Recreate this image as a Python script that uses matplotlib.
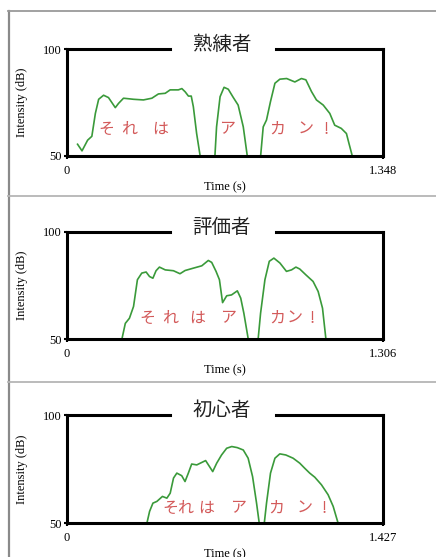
import matplotlib
matplotlib.use('Agg')
import matplotlib.pyplot as plt
from matplotlib.lines import Line2D

plt.rcParams['font.family'] = ['Noto Sans CJK JP', 'DejaVu Sans']

###############
# SPEAKER DATA #
###############

# 熟練者 (expert) : time (s) / intensity (dB), one list per voiced stretch
expert_t1 = [0.045, 0.064, 0.088, 0.106, 0.121, 0.135, 0.156, 0.177, 0.206, 0.220, 0.241, 0.284,
             0.326, 0.362, 0.390, 0.419, 0.440, 0.475, 0.490, 0.504, 0.518, 0.530, 0.539, 0.553, 0.568]
expert_db1 = [55.5, 52.4, 57.4, 59.2, 69.9, 76.5, 78.4, 77.3, 72.6, 74.6, 77.0, 76.5,
              76.2, 77.0, 79.0, 79.3, 80.9, 80.9, 81.5, 80.0, 78.0, 78.0, 73.0, 60.5, 50.0]
expert_t2 = [0.631, 0.638, 0.653, 0.670, 0.688, 0.709, 0.730, 0.752, 0.769]
expert_db2 = [50.0, 63.6, 77.7, 82.1, 81.2, 77.4, 73.8, 63.6, 50.0]
expert_t3 = [0.826, 0.837, 0.851, 0.868, 0.887, 0.908, 0.937, 0.972, 1.000, 1.019, 1.043, 1.064,
             1.093, 1.121, 1.142, 1.170, 1.192, 1.203, 1.217]
expert_db3 = [50.0, 63.6, 66.8, 75.4, 84.0, 85.9, 86.2, 84.6, 86.2, 85.6, 80.1, 76.2,
              73.8, 69.9, 64.4, 62.9, 60.5, 55.8, 50.0]

# 評価者 (rater)
rater_t1 = [0.227, 0.241, 0.258, 0.275, 0.291, 0.309, 0.327, 0.341, 0.355, 0.368, 0.382, 0.406,
            0.440, 0.467, 0.488, 0.522, 0.557, 0.584, 0.598, 0.616, 0.630, 0.643, 0.660, 0.680,
            0.704, 0.718, 0.731, 0.749]
rater_db1 = [50.0, 57.3, 59.7, 65.2, 77.7, 80.8, 81.3, 79.2, 78.4, 81.9, 83.6, 82.3,
             81.9, 80.5, 82.0, 83.1, 84.2, 86.7, 85.8, 81.6, 77.7, 67.0, 70.2, 70.6,
             72.5, 69.1, 62.0, 50.0]
rater_t2 = [0.790, 0.800, 0.818, 0.836, 0.855, 0.880, 0.907, 0.928, 0.946, 0.962, 0.987, 1.017,
            1.038, 1.056, 1.070]
rater_db2 = [50.0, 62.0, 77.7, 86.3, 87.8, 85.5, 81.6, 82.3, 83.6, 82.7, 80.0, 76.9,
             72.2, 64.4, 50.0]

# 初心者 (beginner)
novice_t1 = [0.361, 0.373, 0.388, 0.406, 0.431, 0.451, 0.466, 0.481, 0.496, 0.518, 0.533, 0.548,
             0.563, 0.586, 0.608, 0.626, 0.643, 0.658, 0.676, 0.698, 0.721, 0.744, 0.769, 0.796,
             0.818, 0.838, 0.856, 0.868]
novice_db1 = [50.0, 55.4, 59.2, 60.0, 62.3, 61.5, 63.8, 70.8, 73.1, 71.9, 69.2, 73.1,
              77.3, 76.9, 78.0, 78.9, 76.2, 73.8, 77.7, 81.5, 84.6, 85.4, 84.9, 83.8,
              80.0, 71.5, 59.2, 50.0]
novice_t2 = [0.891, 0.901, 0.919, 0.939, 0.961, 0.988, 1.021, 1.051, 1.073, 1.096, 1.119, 1.149,
             1.179, 1.202, 1.224]
novice_db2 = [50.0, 59.2, 73.1, 80.0, 82.0, 81.5, 80.0, 77.7, 75.4, 73.1, 71.2, 67.7,
              63.1, 57.7, 50.0]

titles = ['熟練者', '評価者', '初心者']
durations = [1.348, 1.306, 1.427]
phrase = ['そ', 'れ', 'は', 'ア', 'カ', 'ン', '!']

# where each kana of the phrase sits (time, dB) in each panel
kana_t = [[0.166, 0.264, 0.397, 0.683, 0.896, 1.020, 1.105],
          [0.331, 0.426, 0.537, 0.665, 0.868, 0.942, 1.013],
          [0.465, 0.533, 0.628, 0.772, 0.944, 1.075, 1.161]]
kana_db = [62.6, 59.8, 56.9]

segments = [
    [(expert_t1, expert_db1), (expert_t2, expert_db2), (expert_t3, expert_db3)],
    [(rater_t1, rater_db1), (rater_t2, rater_db2)],
    [(novice_t1, novice_db1), (novice_t2, novice_db2)],
]

##########
# FIGURE #
##########

W, H = 436, 557
fig = plt.figure(figsize=(W / 100, H / 100), dpi=100)

# panel frame lines (pixel coordinates converted to figure fraction)
def hline(y, x0, x1, color):
    fig.add_artist(Line2D([x0 / W, x1 / W], [1 - y / H, 1 - y / H], color=color, lw=1.3))

fig.add_artist(Line2D([8.5 / W, 8.5 / W], [0, 1 - 10.5 / H], color='#8a8a8a', lw=1.6))
hline(10.5, 8, W, '#9a9a9a')
hline(196.5, 8, W, '#b5b5b5')
hline(381.5, 8, W, '#b5b5b5')

axes_top = [49, 232, 415]
axes_h = [107, 107, 108]
green = '#3a9a3a'
red = '#d35a5a'
serif = 'Liberation Serif'

for i in range(3):
    top = axes_top[i]
    ax = fig.add_axes([67 / W, 1 - (top + axes_h[i]) / H, 316 / W, axes_h[i] / H])
    for t, db in segments[i]:
        ax.plot(t, db, color=green, lw=1.2, clip_on=False, solid_joinstyle='round')

    ax.set_xlim(0, durations[i])
    ax.set_ylim(50, 100)
    ax.set_xticks([0, durations[i]])
    ax.set_xticklabels(['0', '%.3f' % durations[i]], fontfamily=serif, fontsize=9)
    ax.set_yticks([50, 100])
    ax.set_yticklabels(['50', '100'], fontfamily=serif, fontsize=9)
    ax.tick_params(axis='y', length=2.5, width=1.5, pad=1)
    ax.tick_params(axis='x', length=2.5, width=1.5, pad=4)
    ax.set_xlabel('Time (s)', fontfamily=serif, fontsize=9, labelpad=3)
    ax.set_ylabel('Intensity (dB)', fontfamily=serif, fontsize=9, labelpad=11)

    for side in ['left', 'right', 'bottom']:
        ax.spines[side].set_linewidth(2.2)
    # top border is broken around the speaker title
    ax.spines['top'].set_visible(False)
    ax.plot([0, 0.326], [1, 1], transform=ax.transAxes, color='black', lw=2.2,
            clip_on=False, solid_capstyle='projecting')
    ax.plot([0.661, 1], [1, 1], transform=ax.transAxes, color='black', lw=2.2,
            clip_on=False, solid_capstyle='projecting')
    ax.text(0.49, 1.045, titles[i], transform=ax.transAxes, ha='center', va='center',
            fontsize=14, color='#222222')

    for ch, t in zip(phrase, kana_t[i]):
        ax.text(t, kana_db[i], ch, ha='center', va='center', fontsize=11.5, color=red)

fig.savefig('out.png', dpi=100)
